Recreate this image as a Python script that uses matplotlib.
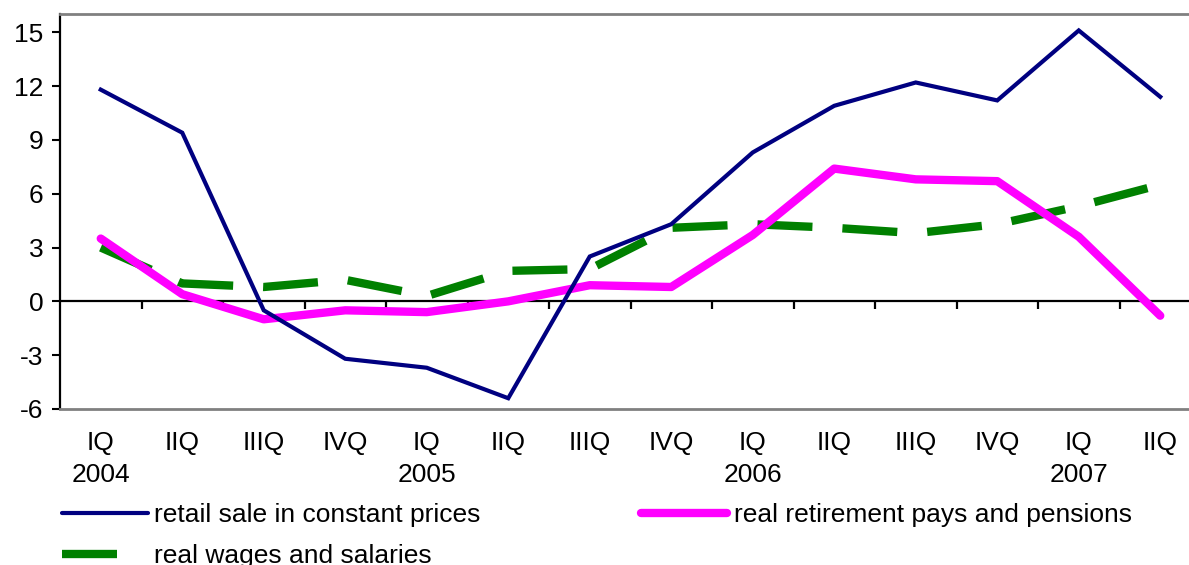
import matplotlib
matplotlib.use("Agg")
import matplotlib.pyplot as plt
from matplotlib.lines import Line2D
import numpy as np

quarters = ["IQ\n2004", "IIQ", "IIIQ", "IVQ", "IQ\n2005", "IIQ", "IIIQ", "IVQ",
            "IQ\n2006", "IIQ", "IIIQ", "IVQ", "IQ\n2007", "IIQ"]
retail = [11.8, 9.4, -0.5, -3.2, -3.7, -5.4, 2.5, 4.3, 8.3, 10.9, 12.2, 11.2, 15.1, 11.4]
pensions = [3.5, 0.4, -1.0, -0.5, -0.6, 0.0, 0.9, 0.8, 3.7, 7.4, 6.8, 6.7, 3.6, -0.8]
wages = [3.0, 1.0, 0.8, 1.2, 0.3, 1.7, 1.8, 4.1, 4.3, 4.1, 3.8, 4.3, 5.3, 6.5]
yticks = [-6, -3, 0, 3, 6, 9, 12, 15]

plt.rcParams['font.family'] = ['Liberation Sans', 'DejaVu Sans']
FS = 19

fig = plt.figure(figsize=(11.89, 5.65), dpi=100)
ax = fig.add_axes([60/1189, 1-409/565, 1141/1189, (409-14.3)/565])

x = np.arange(len(quarters))
l_ret, = ax.plot(x, retail, color='#000080', lw=3.0, solid_joinstyle='miter', zorder=4)
l_pen, = ax.plot(x, pensions, color='#FF00FF', lw=6.0, solid_capstyle='round', zorder=3)
l_wag, = ax.plot(x, wages, color='#008000', lw=6.0, dashes=(6.6, 3.6), dash_capstyle='butt', zorder=2)

ax.set_xlim(-0.5, len(quarters) - 0.5)
ax.set_ylim(-6, 16)
ax.set_yticks(yticks)
ax.set_yticklabels([str(v) for v in yticks], fontsize=FS)
ax.tick_params(axis='y', direction='out', length=6, width=1.5, pad=6, colors='black')
ax.set_xticks(x)
ax.set_xticklabels(quarters, fontsize=FS, linespacing=1.42)
ax.tick_params(axis='x', length=0, pad=16)

for s in ['top', 'bottom', 'right']:
    ax.spines[s].set_color('#808080')
    ax.spines[s].set_linewidth(2)
ax.spines['left'].set_color('black')
ax.spines['left'].set_linewidth(1.6)

# category axis crossing at zero
ax.axhline(0, color='black', lw=1.6, zorder=1)
ax.vlines(x + 0.5, -0.45, 0, color='black', lw=1.6, zorder=1)

h_ret = Line2D([], [], color='#000080', lw=3.0, solid_capstyle='round')
h_pen = Line2D([], [], color='#FF00FF', lw=6.0, solid_capstyle='round')
h_wag = Line2D([], [], color='#008000', lw=6.0, dashes=(6.6, 20), dash_capstyle='butt')
fig.legend([h_ret, h_wag, h_pen],
           ["retail sale in constant prices", "real wages and salaries",
            "real retirement pays and pensions"],
           ncol=2, loc='upper left', bbox_to_anchor=(62/1189, 1-503/565),
           frameon=False, fontsize=FS, handlelength=3.26, handletextpad=0.23,
           columnspacing=6.1, labelspacing=0.65, borderpad=0, borderaxespad=0)

fig.savefig('out.png', dpi=100)
